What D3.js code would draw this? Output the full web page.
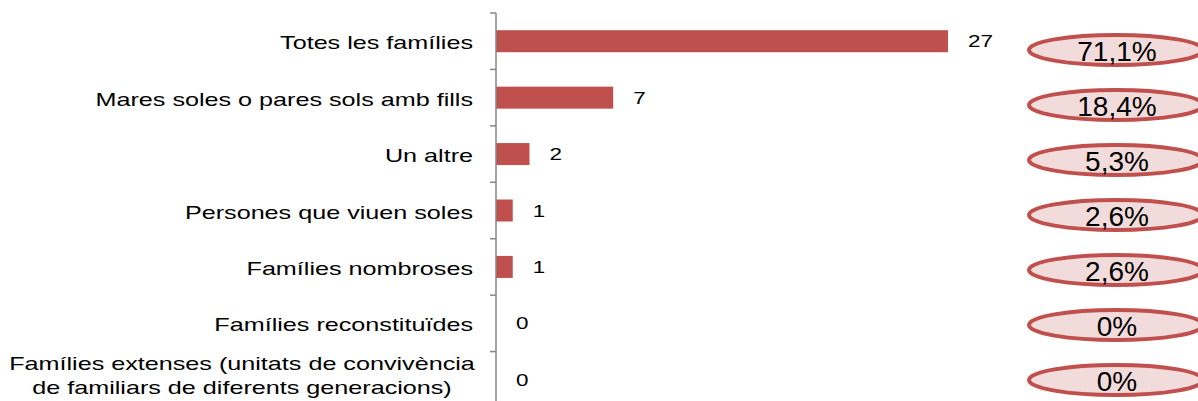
<!DOCTYPE html>
<html>
<head>
<meta charset="utf-8">
<script src="https://cdn.jsdelivr.net/npm/d3@7"></script>
<style>
  body { margin: 0; background: #fff; }
  svg { display: block; font-family: "Liberation Sans", Arial, sans-serif; }
</style>
</head>
<body>
<div id="chart"></div>
<script>
// Categories and counts, top to bottom
var categories = [
  ["Totes les famílies"],
  ["Mares soles o pares sols amb fills"],
  ["Un altre"],
  ["Persones que viuen soles"],
  ["Famílies nombroses"],
  ["Famílies reconstituïdes"],
  ["Famílies extenses (unitats de convivència", "de familiars de diferents generacions)"]
];
var values = [27, 7, 2, 1, 1, 0, 0];
var percentLabels = ["71,1%", "18,4%", "5,3%", "2,6%", "2,6%", "0%", "0%"];

var width = 1198, height = 401;
var svg = d3.select("#chart").append("svg")
  .attr("width", width)
  .attr("height", height);

var axisX = 496;
var stretch = 1.36; // the original text is drawn horizontally stretched

// Band scale for the rows
var y = d3.scaleBand()
  .domain(d3.range(categories.length))
  .range([13, 408]);

// Linear scale for bar length
var x = d3.scaleLinear().domain([0, 27]).range([axisX, 948]);

// Bars
svg.selectAll(".bar")
  .data(values)
  .enter().append("rect")
  .attr("x", axisX)
  .attr("y", (d, i) => y(i) + y.bandwidth() / 2 - 11)
  .attr("width", d => x(d) - axisX)
  .attr("height", 22)
  .attr("fill", "#c0504d");

// Value labels
svg.selectAll(".val")
  .data(values)
  .enter().append("g")
  .attr("transform", (d, i) => `translate(${x(d) + 20},${y(i) + y.bandwidth() / 2 + 6}) scale(${stretch},1)`)
  .append("text")
  .style("font-size", "16.5px")
  .attr("fill", "#000")
  .text(d => d);

// Axis line with ticks between categories
svg.append("line")
  .attr("x1", axisX).attr("x2", axisX)
  .attr("y1", 13).attr("y2", 408)
  .attr("stroke", "#868686")
  .attr("stroke-width", 1.5);

svg.selectAll(".tick")
  .data(d3.range(categories.length + 1))
  .enter().append("line")
  .attr("x1", axisX - 6).attr("x2", axisX)
  .attr("y1", i => i < categories.length ? y(i) : 408)
  .attr("y2", i => i < categories.length ? y(i) : 408)
  .attr("stroke", "#868686")
  .attr("stroke-width", 1.5);

// Category labels
svg.selectAll(".lab")
  .data(categories)
  .enter().append("g")
  .each(function(lines, i) {
    var cy = y(i) + y.bandwidth() / 2;
    var g = d3.select(this);
    if (lines.length === 1) {
      g.attr("transform", `translate(473,${cy + 8}) scale(${stretch},1)`)
        .append("text")
        .attr("text-anchor", "end")
        .style("font-size", "18.5px")
        .text(lines[0]);
    } else {
      g.attr("transform", `translate(242,${cy - 10}) scale(${stretch},1)`);
      var t = g.append("text")
        .attr("text-anchor", "middle")
        .style("font-size", "18.5px");
      t.append("tspan").attr("x", 0).attr("y", 0).text(lines[0]);
      t.append("tspan").attr("x", 0).attr("y", 24).text(lines[1]);
    }
  });

// Percentage ellipses
var ey = d3.scalePoint()
  .domain(d3.range(categories.length))
  .range([50, 380]);

svg.selectAll(".ell")
  .data(percentLabels)
  .enter().append("ellipse")
  .attr("cx", 1116)
  .attr("cy", (d, i) => ey(i))
  .attr("rx", 87)
  .attr("ry", 15)
  .attr("fill", "#f2dcdb")
  .attr("stroke", "#c0504d")
  .attr("stroke-width", 4);

svg.selectAll(".pct")
  .data(percentLabels)
  .enter().append("text")
  .attr("x", 1117)
  .attr("y", (d, i) => ey(i) + 11)
  .attr("text-anchor", "middle")
  .style("font-size", "28px")
  .attr("fill", "#000")
  .text(d => d);
</script>
</body>
</html>
